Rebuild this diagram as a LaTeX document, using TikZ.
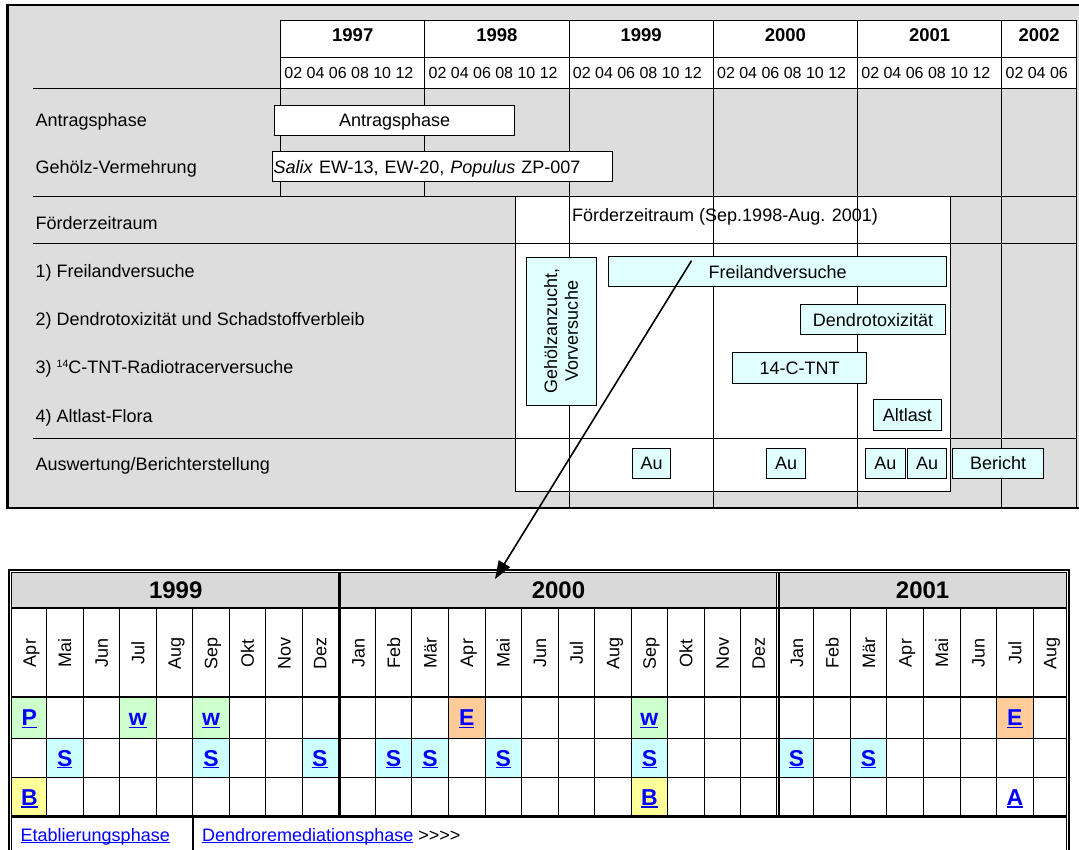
\documentclass[tikz,border=0pt]{standalone}
\usepackage{fontspec}
\setmainfont{Liberation Sans}
\usetikzlibrary{arrows.meta}
\definecolor{framegray}{RGB}{221,221,221}
\definecolor{yeargray}{RGB}{217,217,217}
\definecolor{barcyan}{RGB}{224,255,255}
\definecolor{cellcyan}{RGB}{204,255,255}
\definecolor{cellgreen}{RGB}{204,255,204}
\definecolor{cellyellow}{RGB}{255,255,153}
\definecolor{cellorange}{RGB}{255,204,153}
\definecolor{linkblue}{RGB}{0,0,255}
\newcommand{\ulk}[1]{\setbox0=\hbox{#1}\rlap{\rule[-0.1em]{\wd0}{0.065em}}\box0}
\newcommand{\fr}{\fontsize{18}{21.6}\selectfont}
\newcommand{\fgeh}{\fontsize{18}{20.7}\selectfont}
\newcommand{\fm}{\fontsize{16}{19.2}\selectfont}
\newcommand{\fyt}{\fontsize{18.5}{22}\selectfont\bfseries}
\newcommand{\fyb}{\fontsize{24}{28}\selectfont\bfseries}
\newcommand{\flt}{\fontsize{23}{27}\selectfont\bfseries}
\begin{document}
\begin{tikzpicture}[x=1pt,y=-1pt,
  gridln/.style={draw=black, line width=0.9pt},
  lbl/.style={font=\fr, inner sep=0pt, anchor=base west},
  bar/.style={draw=black, line width=0.9pt, fill=barcyan, inner sep=0pt, font=\fr, text height=12.9pt, text depth=0pt, minimum height=30.5pt},
  wbar/.style={bar, fill=white},
  yeartop/.style={font=\fyt, inner sep=0pt, anchor=base},
  mnum/.style={font=\fm, inner sep=0pt, anchor=base west},
  yearbot/.style={font=\fyb, inner sep=0pt, text height=17.2pt, text depth=0pt},
  monthlbl/.style={font=\fr, inner sep=0pt, rotate=90, text height=12.9pt, text depth=0pt},
  letter/.style={font=\flt, text=linkblue, inner sep=0pt, text height=16.5pt, text depth=0pt}]
\useasboundingbox (0,0) rectangle (1079,850);

% ---------- upper chart ----------
\fill[framegray] (7.5,4.8) rectangle (1090,508);
\draw[gridln, fill=white] (280.6,20) rectangle (1076.5,88.3);
\draw[gridln] (280.6,57.2) -- (1076.5,57.2);
\foreach \x in {424.84,569.08,713.32,857.56,1001.8} \draw[gridln] (\x,20) -- (\x,88.3);
\foreach \y/\x in {1997/352.72,1998/496.96,1999/641.2,2000/785.44,2001/929.68,2002/1039.2}
  \node[yeartop] (yt\y) at (\x,41.8) {\y};
\foreach \x [count=\i] in {280.6,424.84,569.08,713.32,857.56}
  \node[mnum] (mn\i) at (\x+3.6,78.3) {02 04 06 08 10 12};
\node[mnum] (mn6) at (1005.4,78.3) {02 04 06};

% Foerderzeitraum box
\draw[gridln, fill=white] (515,196) rectangle (950.5,491.7);
\node[lbl] (foerdtxt) at (572,222) {Förderzeitraum (Sep.1998-Aug. 2001)};

% grid lines
\foreach \y in {88.3,196,243,438.5} \draw[gridln] (33,\y) -- (1076.5,\y);
\foreach \x in {280.6,424.84} \draw[gridln] (\x,88.3) -- (\x,196);
\foreach \x in {569.08,713.32,857.56,1001.8,1076.5} \draw[gridln] (\x,88.3) -- (\x,508);

% row labels
\node[lbl] (l1) at (35.5,126.7) {Antragsphase};
\node[lbl] (l2) at (35.5,173.4) {Gehölz-Vermehrung};
\node[lbl] (l3) at (35.5,230) {Förderzeitraum};
\node[lbl] (l4) at (35.5,277.3) {1) Freilandversuche};
\node[lbl] (l5) at (35.5,326) {2) Dendrotoxizität und Schadstoffverbleib};
\node[lbl] (l6) at (35.5,373.3) {3) \raisebox{0.33em}{\fontsize{10.5}{11}\selectfont 14}C-TNT-Radiotracerversuche};
\node[lbl] (l7) at (35.5,422.3) {4) Altlast-Flora};
\node[lbl] (l8) at (35.5,470.7) {Auswertung/Berichterstellung};

% bars
\node[wbar, minimum width=240.3pt] (antrag) at (394.65,120.5) {Antragsphase};
\node[wbar, minimum width=340.3pt, text width=337.3pt, align=left, inner xsep=1.5pt] (salix) at (442.15,166.7) {\textit{Salix} EW-13, EW-20, \textit{Populus} ZP-007};
\node[draw=black, line width=0.9pt, fill=barcyan, inner sep=0pt, font=\fgeh, rotate=90, minimum width=148pt, minimum height=70pt, align=center] (gehoelz) at (561,331) {Gehölzanzucht,\\Vorversuche};
\node[bar, minimum width=337.4pt] (frei) at (777.6,271.7) {Freilandversuche};
\node[bar, minimum width=144.6pt] (dendro) at (873,319.65) {Dendrotoxizität};
\node[bar, minimum width=133.6pt] (tnt) at (799.6,367.8) {14-C-TNT};
\node[bar, minimum width=68.9pt] (altlast) at (907.45,415.15) {Altlast};
\node[bar, minimum width=38.6pt] (au1) at (651.6,463.2) {Au};
\node[bar, minimum width=38.9pt] (au2) at (786.05,463.2) {Au};
\node[bar, minimum width=39.2pt] (au3) at (885.4,463.2) {Au};
\node[bar, minimum width=38.5pt] (au4) at (927.05,463.2) {Au};
\node[bar, minimum width=91.6pt] (bericht) at (998,463.2) {Bericht};

% frame border
\draw[line width=2.5pt] (1090,4.8) -- (7.5,4.8) -- (7.5,508) -- (1090,508);

% ---------- lower table ----------
\fill[white] (11.8,572.8) rectangle (1066.5,860);
\fill[yeargray] (11.8,572.8) rectangle (1066.5,608);
\foreach \l/\r/\t/\b/\c in {
  12.2/46.5/697/738.2/cellgreen, 119.6/156.15/697/738.2/cellgreen, 192.7/229.25/697/738.2/cellgreen,
  448.4/484.95/697/738.2/cellorange, 631.15/667.7/697/738.2/cellgreen, 996.55/1033.1/697/738.2/cellorange,
  46.5/83.05/738.2/777.4/cellcyan, 192.7/229.25/738.2/777.4/cellcyan, 302.35/338/738.2/777.4/cellcyan,
  375.3/411.85/738.2/777.4/cellcyan, 411.85/448.4/738.2/777.4/cellcyan, 484.95/521.5/738.2/777.4/cellcyan,
  631.15/667.7/738.2/777.4/cellcyan, 779.5/813.8/738.2/777.4/cellcyan, 850.35/886.9/738.2/777.4/cellcyan,
  12.2/46.5/777.4/816.8/cellyellow, 631.15/667.7/777.4/816.8/cellyellow}
  \fill[\c] (\l,\t) rectangle (\r,\b);
\foreach \x in {46.5,83.05,119.6,156.15,192.7,229.25,265.8,302.35,375.3,411.85,448.4,484.95,521.5,558.05,594.6,631.15,667.7,704.25,740.8,813.8,850.35,886.9,923.45,960,996.55,1033.1}
  \draw[gridln] (\x,608) -- (\x,816.8);
\draw[line width=3.4pt] (339.2,572.8) -- (339.2,816.8);
\draw[line width=3.6pt] (777.8,572.8) -- (777.8,816.8);
\draw[white, line width=1pt] (777.8,572.8) -- (777.8,816.8);
\draw[line width=2.6pt] (11.8,608) -- (1066.5,608);
\draw[line width=2.3pt] (11.8,697.2) -- (1066.5,697.2);
\draw[gridln] (11.8,738.2) -- (1066.5,738.2);
\draw[gridln] (11.8,777.4) -- (1066.5,777.4);
\draw[line width=2.9pt] (11.8,816.8) -- (1066.5,816.8);
\draw[line width=2.6pt] (192.9,816.8) -- (192.9,870);
\draw[line width=0.9pt] (11.8,880) -- (11.8,572.8) -- (1066.5,572.8) -- (1066.5,880);
\draw[line width=2.2pt] (9.1,880) -- (9.1,570.3) -- (1069.2,570.3) -- (1069.2,880);

\node[yearbot] (yb1999) at (175.7,589.8) {1999};
\node[yearbot] (yb2000) at (558.5,589.8) {2000};
\node[yearbot] (yb2001) at (922.6,589.8) {2001};

\foreach \x/\m [count=\i] in {29.35/Apr,64.78/Mai,101.33/Jun,137.88/Jul,174.43/Aug,210.98/Sep,247.53/Okt,284.08/Nov,319.9/Dez,
  358.15/Jan,393.58/Feb,430.13/Mär,466.68/Apr,503.23/Mai,539.78/Jun,576.33/Jul,612.88/Aug,649.43/Sep,685.98/Okt,722.53/Nov,758.4/Dez,
  796.65/Jan,832.08/Feb,868.63/Mär,905.18/Apr,941.73/Mai,978.28/Jun,1014.83/Jul,1049.85/Aug}
  \node[monthlbl] (mo\i) at (\x,653) {\m};

\foreach \x/\y/\s [count=\i] in {29.35/717.6/P,137.88/717.6/w,210.98/717.6/w,466.68/717.6/E,649.43/717.6/w,1014.83/717.6/E,
  64.78/757.8/S,210.98/757.8/S,319.9/757.8/S,393.58/757.8/S,430.13/757.8/S,503.23/757.8/S,649.43/757.8/S,796.65/757.8/S,868.63/757.8/S,
  29.35/797.1/B,649.43/797.1/B,1014.83/797.1/A}
  \node[letter] (lt\i) at (\x,\y) {\ulk{\s}};

\node[lbl, text=linkblue] (etab) at (20.5,841.5) {\ulk{Etablierungsphase}};
\node[lbl] (dendrorem) at (202,841.5) {\textcolor{linkblue}{\ulk{Dendroremediationsphase}} >\kern0pt>\kern0pt>\kern0pt>};

% ---------- arrow ----------
\coordinate (arrfrom) at (691.5,260.7);
\coordinate (arrto) at (495,579);
\draw[line width=1.6pt, -{Triangle[length=18pt,width=13pt]}] (arrfrom) -- (arrto);
\end{tikzpicture}
\end{document}
